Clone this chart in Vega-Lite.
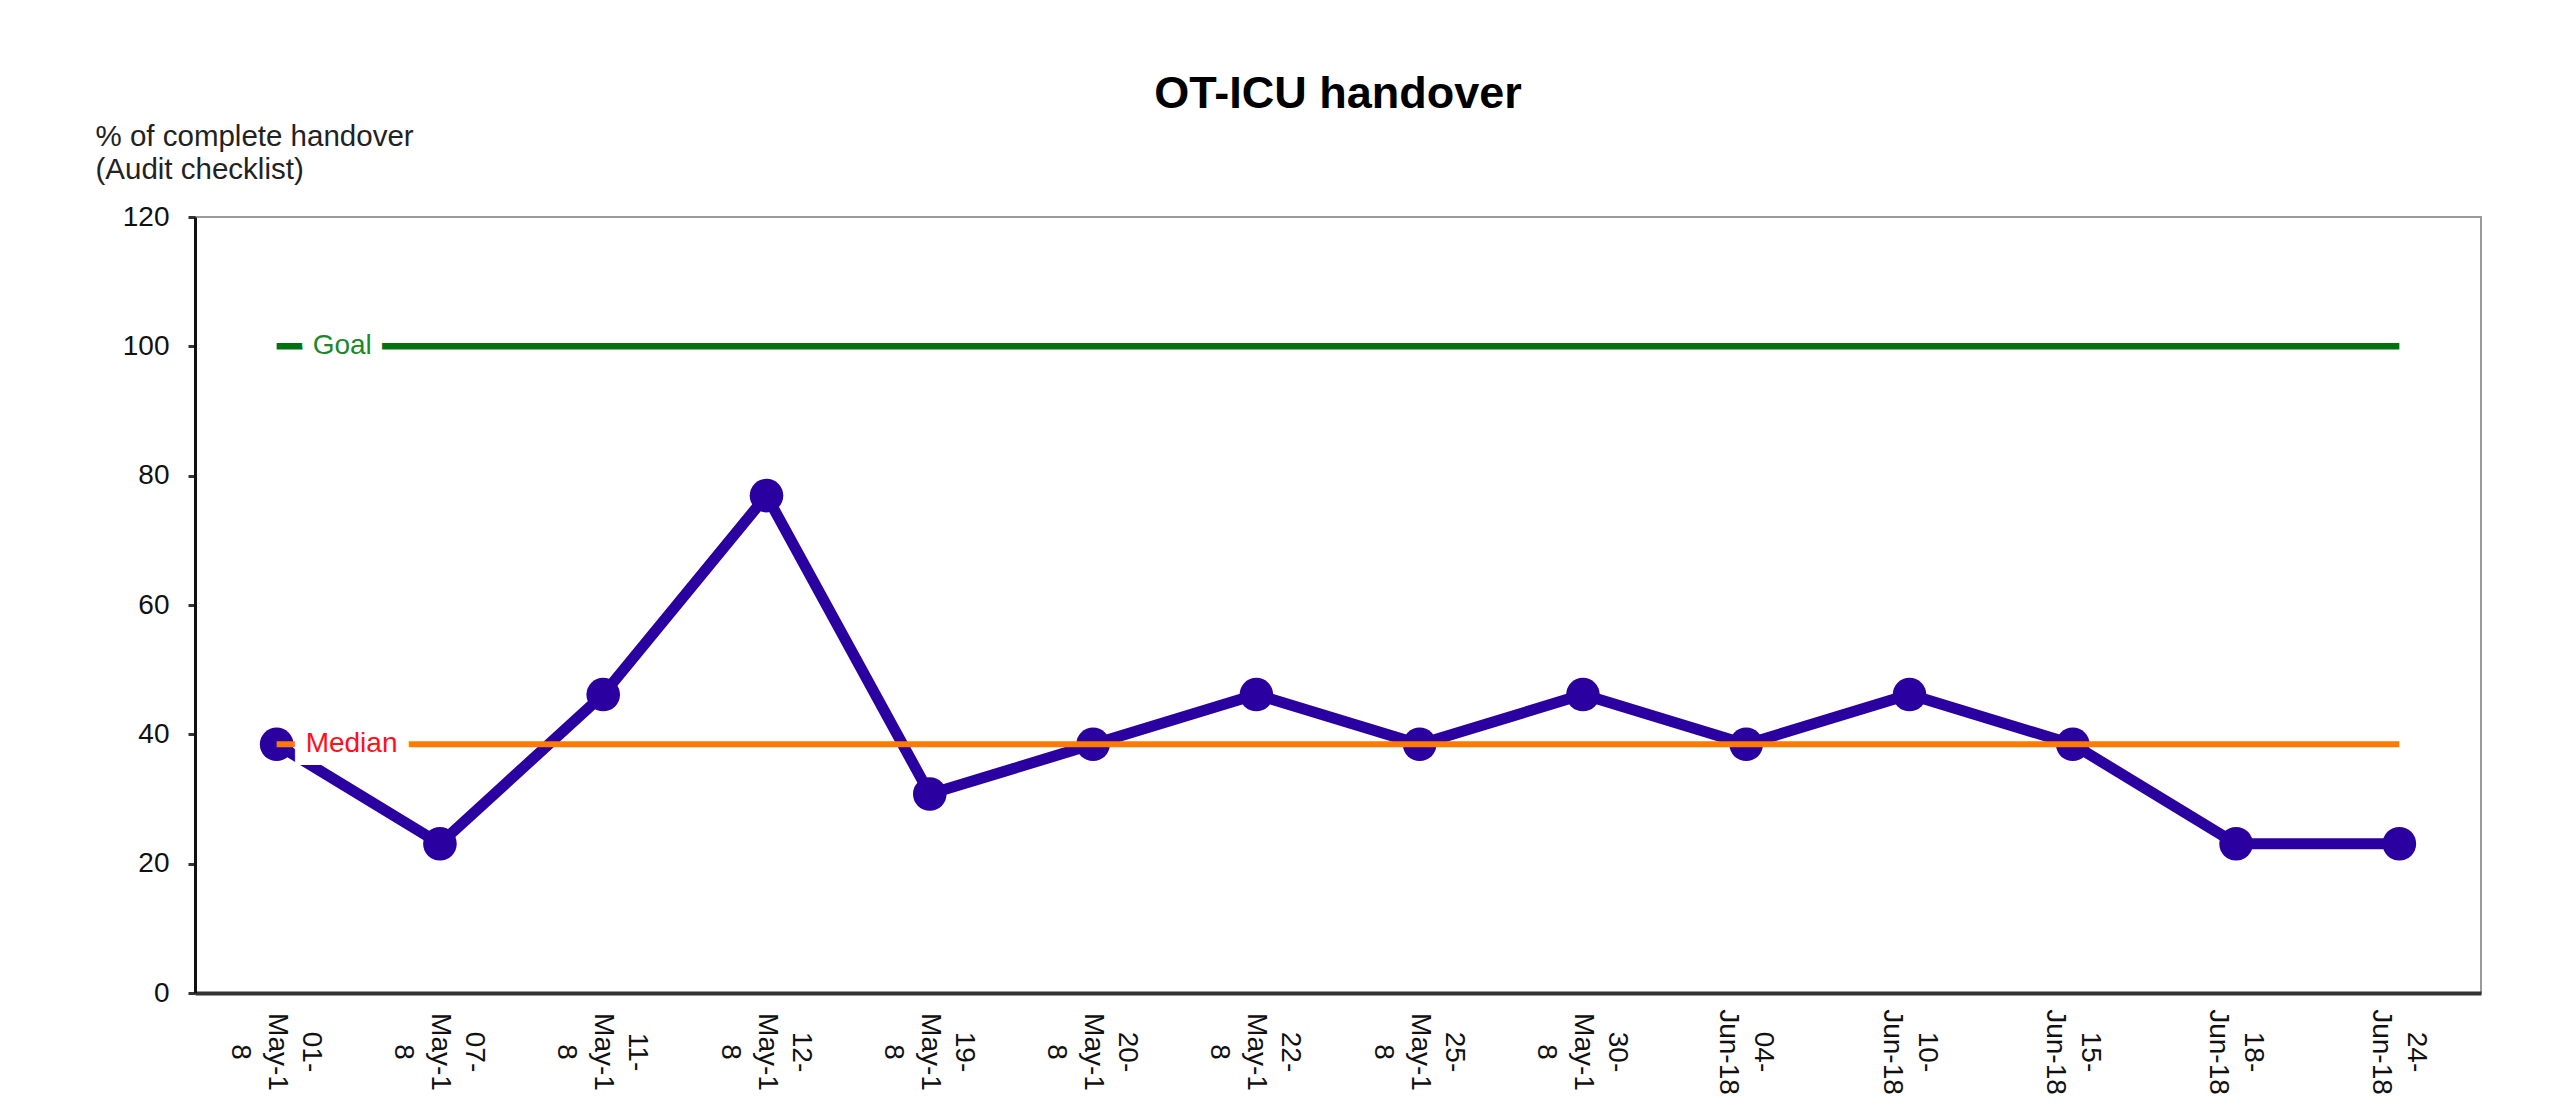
{
  "$schema": "https://vega.github.io/schema/vega-lite/v6.json",
  "width": 2286,
  "height": 776,
  "autosize": {"type": "none"},
  "padding": {"left": 195, "top": 217, "right": 75, "bottom": 122},
  "background": "white",
  "title": {
    "text": "OT-ICU handover",
    "font": "Liberation Sans",
    "fontSize": 45,
    "fontWeight": "bold",
    "color": "#000000",
    "anchor": "middle"
  },
  "data": {
    "values": [
      {"date": "01-May-18", "lab1": "01-", "lab2": "May-1", "lab3": "8", "value": 38.46, "goal": 100, "median": 38.46},
      {"date": "07-May-18", "lab1": "07-", "lab2": "May-1", "lab3": "8", "value": 23.08, "goal": 100, "median": 38.46},
      {"date": "11-May-18", "lab1": "11-", "lab2": "May-1", "lab3": "8", "value": 46.15, "goal": 100, "median": 38.46},
      {"date": "12-May-18", "lab1": "12-", "lab2": "May-1", "lab3": "8", "value": 76.92, "goal": 100, "median": 38.46},
      {"date": "19-May-18", "lab1": "19-", "lab2": "May-1", "lab3": "8", "value": 30.77, "goal": 100, "median": 38.46},
      {"date": "20-May-18", "lab1": "20-", "lab2": "May-1", "lab3": "8", "value": 38.46, "goal": 100, "median": 38.46},
      {"date": "22-May-18", "lab1": "22-", "lab2": "May-1", "lab3": "8", "value": 46.15, "goal": 100, "median": 38.46},
      {"date": "25-May-18", "lab1": "25-", "lab2": "May-1", "lab3": "8", "value": 38.46, "goal": 100, "median": 38.46},
      {"date": "30-May-18", "lab1": "30-", "lab2": "May-1", "lab3": "8", "value": 46.15, "goal": 100, "median": 38.46},
      {"date": "04-Jun-18", "lab1": "04-", "lab2": "Jun-18", "lab3": "", "value": 38.46, "goal": 100, "median": 38.46},
      {"date": "10-Jun-18", "lab1": "10-", "lab2": "Jun-18", "lab3": "", "value": 46.15, "goal": 100, "median": 38.46},
      {"date": "15-Jun-18", "lab1": "15-", "lab2": "Jun-18", "lab3": "", "value": 38.46, "goal": 100, "median": 38.46},
      {"date": "18-Jun-18", "lab1": "18-", "lab2": "Jun-18", "lab3": "", "value": 23.08, "goal": 100, "median": 38.46},
      {"date": "24-Jun-18", "lab1": "24-", "lab2": "Jun-18", "lab3": "", "value": 23.08, "goal": 100, "median": 38.46}
    ]
  },
  "layer": [
    {
      "mark": {"type": "line", "color": "#2a00a0", "strokeWidth": 11},
      "encoding": {
        "x": {
          "field": "date",
          "type": "ordinal",
          "sort": null,
          "scale": {"type": "band", "paddingInner": 0, "paddingOuter": 0},
          "axis": {
            "title": null,
            "labels": false,
            "ticks": false,
            "domainColor": "#333333",
            "domainWidth": 4,
            "grid": false
          }
        },
        "y": {
          "field": "value",
          "type": "quantitative",
          "scale": {"domain": [0, 120], "nice": false},
          "axis": {
            "values": [0, 20, 40, 60, 80, 100, 120],
            "grid": false,
            "title": ["% of complete handover", "(Audit checklist)"],
            "titleAngle": 0,
            "titleAlign": "left",
            "titleBaseline": "alphabetic",
            "titleX": -100,
            "titleY": -72,
            "titleFont": "Liberation Sans",
            "titleFontSize": 29.5,
            "titleFontWeight": "normal",
            "titleLineHeight": 33,
            "titleColor": "#222222",
            "labelFont": "Liberation Sans",
            "labelFontSize": 28,
            "labelColor": "#111111",
            "labelPadding": 19,
            "domainColor": "#111111",
            "domainWidth": 3,
            "tickColor": "#333333",
            "tickWidth": 3,
            "tickSize": 7
          }
        }
      }
    },
    {
      "mark": {"type": "point", "filled": true, "shape": "circle", "size": 1130, "color": "#2a00a0", "opacity": 1},
      "encoding": {
        "x": {"field": "date", "type": "ordinal", "sort": null},
        "y": {"field": "value", "type": "quantitative"}
      }
    },
    {
      "mark": {"type": "line", "color": "#00730f", "strokeWidth": 6.5},
      "encoding": {
        "x": {"field": "date", "type": "ordinal", "sort": null},
        "y": {"field": "goal", "type": "quantitative"}
      }
    },
    {
      "mark": {"type": "line", "color": "#ff7a00", "strokeWidth": 6},
      "encoding": {
        "x": {"field": "date", "type": "ordinal", "sort": null},
        "y": {"field": "median", "type": "quantitative"}
      }
    },
    {
      "transform": [{"filter": "datum.date == '01-May-18'"}],
      "mark": {"type": "text", "text": "Goal", "align": "left", "baseline": "middle", "dx": 36, "font": "Liberation Sans", "fontSize": 28, "fill": "white", "stroke": "white", "strokeWidth": 24},
      "encoding": {
        "x": {"field": "date", "type": "ordinal", "sort": null},
        "y": {"field": "goal", "type": "quantitative"}
      }
    },
    {
      "transform": [{"filter": "datum.date == '01-May-18'"}],
      "mark": {"type": "text", "text": "Goal", "align": "left", "baseline": "middle", "dx": 36, "font": "Liberation Sans", "fontSize": 28, "color": "#188a28"},
      "encoding": {
        "x": {"field": "date", "type": "ordinal", "sort": null},
        "y": {"field": "goal", "type": "quantitative"}
      }
    },
    {
      "transform": [{"filter": "datum.date == '01-May-18'"}],
      "mark": {"type": "text", "text": "Median", "align": "left", "baseline": "middle", "dx": 29, "font": "Liberation Sans", "fontSize": 28, "fill": "white", "stroke": "white", "strokeWidth": 26},
      "encoding": {
        "x": {"field": "date", "type": "ordinal", "sort": null},
        "y": {"field": "median", "type": "quantitative"}
      }
    },
    {
      "transform": [{"filter": "datum.date == '01-May-18'"}],
      "mark": {"type": "text", "text": "Median", "align": "left", "baseline": "middle", "dx": 29, "font": "Liberation Sans", "fontSize": 28, "color": "#ff1020"},
      "encoding": {
        "x": {"field": "date", "type": "ordinal", "sort": null},
        "y": {"field": "median", "type": "quantitative"}
      }
    },
    {
      "transform": [{"filter": "datum.lab3 != ''"}],
      "mark": {"type": "text", "angle": 90, "align": "center", "baseline": "middle", "dx": 59, "dy": -34, "font": "Liberation Sans", "fontSize": 28, "color": "#111111", "clip": false},
      "encoding": {
        "x": {"field": "date", "type": "ordinal", "sort": null},
        "y": {"datum": 0, "type": "quantitative"},
        "text": {"field": "lab1"}
      }
    },
    {
      "transform": [{"filter": "datum.lab3 != ''"}],
      "mark": {"type": "text", "angle": 90, "align": "center", "baseline": "middle", "dx": 59, "dy": 0, "font": "Liberation Sans", "fontSize": 28, "color": "#111111", "clip": false},
      "encoding": {
        "x": {"field": "date", "type": "ordinal", "sort": null},
        "y": {"datum": 0, "type": "quantitative"},
        "text": {"field": "lab2"}
      }
    },
    {
      "transform": [{"filter": "datum.lab3 != ''"}],
      "mark": {"type": "text", "angle": 90, "align": "center", "baseline": "middle", "dx": 59, "dy": 37, "font": "Liberation Sans", "fontSize": 28, "color": "#111111", "clip": false},
      "encoding": {
        "x": {"field": "date", "type": "ordinal", "sort": null},
        "y": {"datum": 0, "type": "quantitative"},
        "text": {"field": "lab3"}
      }
    },
    {
      "transform": [{"filter": "datum.lab3 == ''"}],
      "mark": {"type": "text", "angle": 90, "align": "center", "baseline": "middle", "dx": 59, "dy": -17, "font": "Liberation Sans", "fontSize": 28, "color": "#111111", "clip": false},
      "encoding": {
        "x": {"field": "date", "type": "ordinal", "sort": null},
        "y": {"datum": 0, "type": "quantitative"},
        "text": {"field": "lab1"}
      }
    },
    {
      "transform": [{"filter": "datum.lab3 == ''"}],
      "mark": {"type": "text", "angle": 90, "align": "center", "baseline": "middle", "dx": 59, "dy": 18, "font": "Liberation Sans", "fontSize": 28, "color": "#111111", "clip": false},
      "encoding": {
        "x": {"field": "date", "type": "ordinal", "sort": null},
        "y": {"datum": 0, "type": "quantitative"},
        "text": {"field": "lab2"}
      }
    }
  ],
  "config": {
    "view": {"stroke": "#9a9a9a", "strokeWidth": 2}
  }
}
